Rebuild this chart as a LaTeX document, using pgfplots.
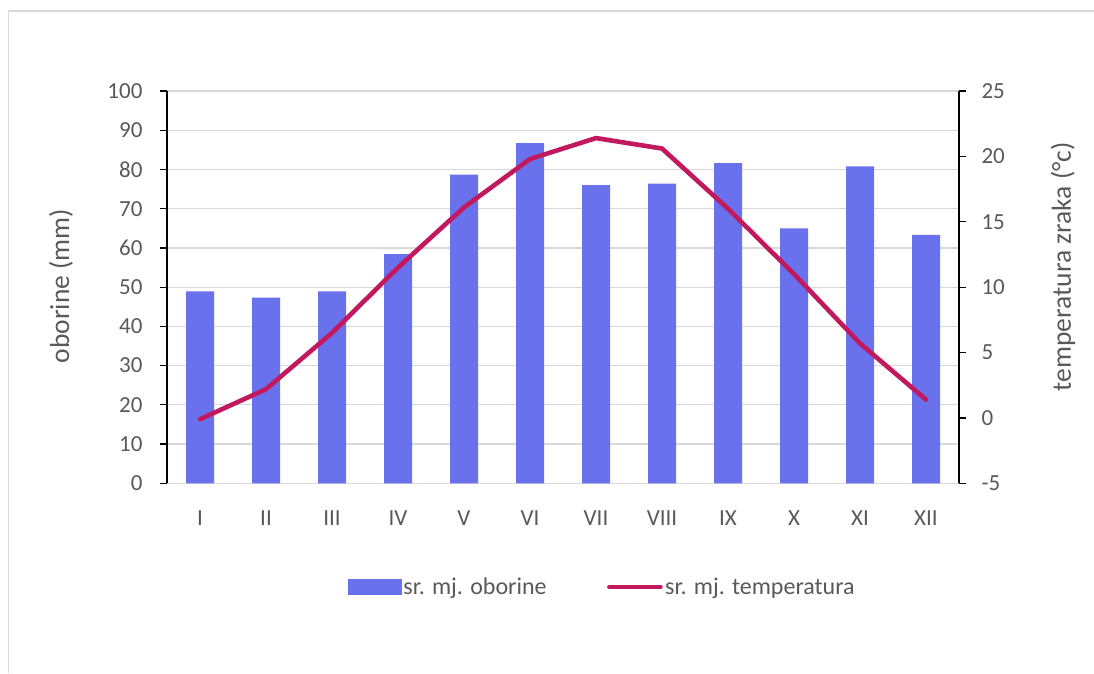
\documentclass[border=0pt]{standalone}
\usepackage{fontspec}
\setmainfont{Carlito}
\usepackage{pgfplots}
\pgfplotsset{compat=1.18}

\definecolor{barcol}{HTML}{6A71EC}
\definecolor{linecol}{HTML}{C2185D}
\definecolor{gridcol}{HTML}{D9D9D9}
\definecolor{txtcol}{HTML}{595959}

\newcommand{\fs}{\fontsize{23}{27}\selectfont}
\newcommand{\fl}{\fontsize{24}{28}\selectfont}
\newcommand{\fa}{\fontsize{27.5}{32}\selectfont}

\begin{document}
\begin{tikzpicture}
  \path[use as bounding box] (0pt,0pt) rectangle (1094pt,673pt);
  \draw[gridcol, line width=1.5pt] (8.5pt,0pt) -- (8.5pt,662pt) -- (1094pt,662pt);

  % oborine (left axis)
  \begin{axis}[
      at={(167pt,189.7pt)}, anchor=south west,
      scale only axis, width=792pt, height=392.3pt,
      xmin=0.5, xmax=12.5, ymin=0, ymax=100,
      xtick={1,...,12},
      xticklabels={I,II,III,IV,V,VI,VII,VIII,IX,X,XI,XII},
      ytick={0,10,...,100},
      axis x line*=bottom, axis y line*=left,
      x axis line style={draw=gridcol, line width=1.3pt, -},
      y axis line style={black, line width=1.3pt, -},
      xtick style={draw=none},
      ytick style={black, line width=1.3pt},
      tick align=outside, major tick length=7pt,
      ymajorgrids, grid style={gridcol, line width=1.3pt},
      /pgf/number format/assume math mode=true,
      tick label style={font=\fs, text=txtcol},
      xticklabel style={yshift=-17pt},
      yticklabel style={xshift=-14pt},
      ylabel={oborine (mm)},
      ylabel style={font=\fa, text=txtcol, at={(axis description cs:-0.1338,0.503)}, anchor=center},
    ]
    \addplot[ybar, bar width=28pt, bar shift=0pt, fill=barcol, draw=none]
      coordinates {(1,48.9) (2,47.3) (3,48.9) (4,58.4) (5,78.7) (6,86.7)
                   (7,76.0) (8,76.4) (9,81.6) (10,65.0) (11,80.8) (12,63.3)};
  \end{axis}

  % temperatura (right axis)
  \begin{axis}[
      at={(167pt,189.7pt)}, anchor=south west,
      scale only axis, width=792pt, height=392.3pt,
      xmin=0.5, xmax=12.5, ymin=-5, ymax=25,
      ytick={-5,0,...,25},
      axis x line=none, axis y line*=right,
      y axis line style={black, line width=1.3pt, -},
      ytick style={black, line width=1.3pt},
      tick align=outside, major tick length=7pt,
      /pgf/number format/assume math mode=true,
      tick label style={font=\fs, text=txtcol},
      yticklabel style={xshift=12pt},
      ylabel={temperatura zraka (°c)},
      ylabel style={font=\fa, text=txtcol, at={(axis description cs:1.1313,0.552)}, anchor=center},
      legend columns=2,
      legend style={draw=none, fill=none, font=\fl, text=txtcol,
        at={(axis description cs:0.2277,-0.2643)}, anchor=west,
        inner sep=0pt,
        nodes={inner sep=2.5pt},
        /tikz/every even column/.append style={column sep=58pt}},
    ]
    \addlegendimage{legend image code/.code={
        \fill[barcol] (0pt,-7.6pt) rectangle (53pt,7.6pt);}}
    \addlegendentry{sr. mj. oborine}
    \addplot[linecol, line width=4.6pt, line join=round, line cap=round,
      legend image code/.code={
        \draw[linecol, line width=4.6pt, line cap=round] (2pt,0pt) -- (53pt,0pt);}]
      coordinates {(1,-0.1) (2,2.2) (3,6.5) (4,11.5) (5,16.1) (6,19.8)
                   (7,21.4) (8,20.6) (9,16.0) (10,11.0) (11,5.7) (12,1.4)};
    \addlegendentry{sr. mj. temperatura}
  \end{axis}
\end{tikzpicture}
\end{document}
